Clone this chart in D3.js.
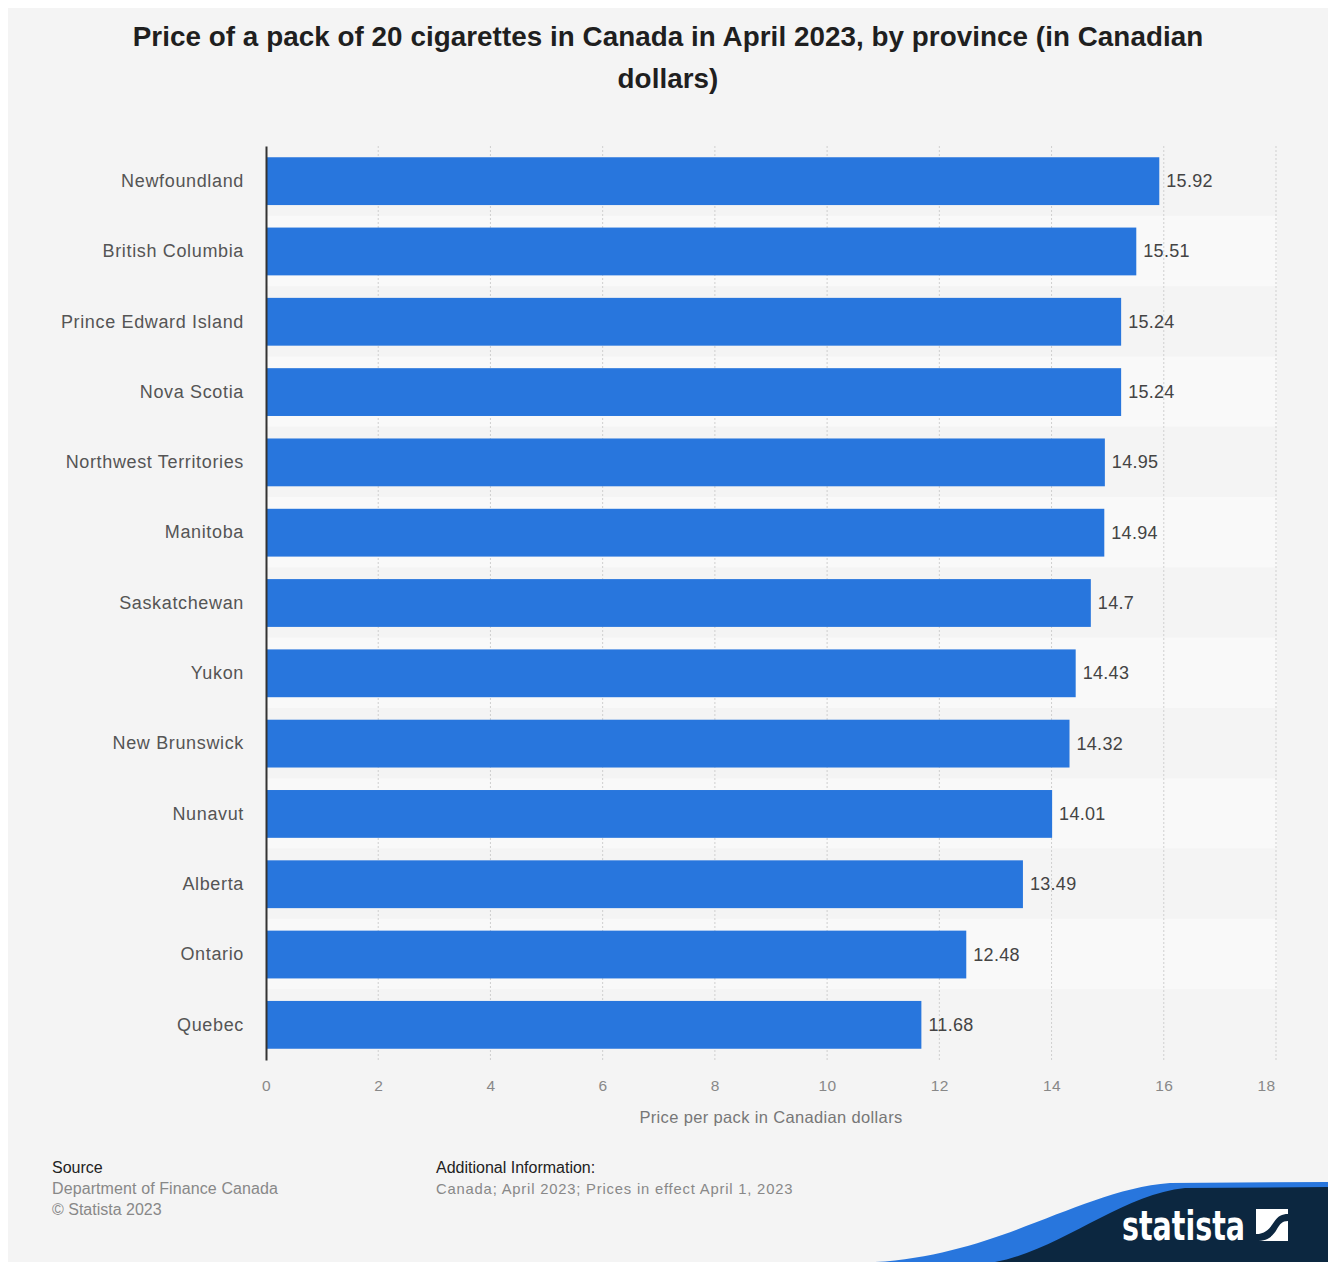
<!DOCTYPE html>
<html><head><meta charset="utf-8">
<script src="https://cdn.jsdelivr.net/npm/d3@7"></script>
<style>
html,body{margin:0;padding:0;background:#fff;}
svg{display:block;font-family:"Liberation Sans",Arial,Helvetica,sans-serif;}
</style></head>
<body>
<script>
const provinces = ["Newfoundland","British Columbia","Prince Edward Island","Nova Scotia","Northwest Territories","Manitoba","Saskatchewan","Yukon","New Brunswick","Nunavut","Alberta","Ontario","Quebec"];
const prices = [15.92,15.51,15.24,15.24,14.95,14.94,14.7,14.43,14.32,14.01,13.49,12.48,11.68];
const valueLabels = ["15.92","15.51","15.24","15.24","14.95","14.94","14.7","14.43","14.32","14.01","13.49","12.48","11.68"];
const xTicks = [0,2,4,6,8,10,12,14,16,18];
const titleLines = ["Price of a pack of 20 cigarettes in Canada in April 2023, by province (in Canadian","dollars)"];
const axisTitle = "Price per pack in Canadian dollars";

const W=1328,H=1262;
const svg=d3.select("body").append("svg").attr("width",W).attr("height",H);
svg.append("rect").attr("x",8).attr("y",8).attr("width",W-8).attr("height",H-8).attr("fill","#f4f4f4");

const m={l:266,r:1276,t:146,b:1060};
const x=d3.scaleLinear().domain([0,18]).range([m.l,m.r]);
const y=d3.scaleBand().domain(provinces).range([m.t,m.b]).paddingInner(0.32).paddingOuter(0.16);
const step=y.step();

// stripes
svg.append("g").selectAll("rect").data(provinces.filter((d,i)=>i%2===1)).join("rect")
  .attr("x",m.l).attr("width",m.r-m.l+1)
  .attr("y",d=>y(d)-y.paddingInner()*step/2-0.5).attr("height",step)
  .attr("fill","#f9f9f9");

// title
svg.append("g").selectAll("text").data(titleLines).join("text")
  .attr("x",668).attr("y",(d,i)=>46+i*42).attr("text-anchor","middle")
  .attr("font-size",27.8).attr("letter-spacing",0.05).attr("font-weight","bold").attr("fill","#1f1f1f").text(d=>d);

// grid
svg.append("g").selectAll("line").data(xTicks.slice(1)).join("line")
  .attr("x1",d=>x(d)).attr("x2",d=>x(d)).attr("y1",m.t).attr("y2",m.b)
  .attr("stroke","#cfcfcf").attr("stroke-width",1).attr("stroke-dasharray","2,2");

// bars
svg.append("g").selectAll("rect").data(provinces).join("rect")
  .attr("x",x(0)).attr("y",d=>y(d)).attr("height",y.bandwidth())
  .attr("width",(d,i)=>x(prices[i])-x(0)).attr("fill","#2876dd");

// value labels
svg.append("g").selectAll("text").data(provinces).join("text")
  .attr("x",(d,i)=>x(prices[i])+7).attr("y",d=>y(d)+y.bandwidth()/2+6)
  .attr("font-size",18).attr("letter-spacing",0.3).attr("fill","#444").text((d,i)=>valueLabels[i]);

// y axis
const ya=svg.append("g").attr("transform",`translate(${m.l},0)`).call(d3.axisLeft(y).tickSize(0).tickPadding(22));
ya.select(".domain").attr("stroke","#333").attr("stroke-width",2);
ya.selectAll("text").attr("font-size",18).attr("letter-spacing",0.65).attr("fill","#555").attr("font-family","Liberation Sans, Arial, sans-serif");

// x axis
const xa=svg.append("g").attr("transform",`translate(0,${m.b})`).call(d3.axisBottom(x).tickValues(xTicks).tickSize(0).tickPadding(20).tickFormat(d3.format("d")));
xa.select(".domain").remove();
xa.selectAll("text").attr("font-size",15.5).attr("letter-spacing",0.5).attr("fill","#888").attr("font-family","Liberation Sans, Arial, sans-serif");
xa.selectAll(".tick").filter(d=>d===18).select("text").attr("dx",-10);

svg.append("text").attr("x",(m.l+m.r)/2).attr("y",1123).attr("text-anchor","middle")
  .attr("font-size",16.5).attr("letter-spacing",0.35).attr("fill","#777").text(axisTitle);

// footer
const f=svg.append("g").attr("font-size",16);
f.append("text").attr("x",52).attr("y",1173).attr("fill","#222").text("Source");
f.append("text").attr("x",52).attr("y",1194).attr("fill","#888").attr("letter-spacing",0.1).text("Department of Finance Canada");
f.append("text").attr("x",52).attr("y",1215).attr("fill","#888").text("© Statista 2023");
f.append("text").attr("x",436).attr("y",1173).attr("fill","#222").text("Additional Information:");
f.append("text").attr("x",436).attr("y",1194).attr("fill","#888").attr("letter-spacing",0.8).attr("font-size",14.8).text("Canada; April 2023; Prices in effect April 1, 2023");

// logo band
const lg=svg.append("g");
lg.append("path").attr("d","M875,1262 C1000,1255 1080,1190 1170,1183 L1328,1182 L1328,1262 Z").attr("fill","#2876dd");
lg.append("path").attr("d","M995,1262 C1060,1250 1120,1195 1185,1188 L1328,1187 L1328,1262 Z").attr("fill","#0c2740");
lg.append("text").attr("x",1122).attr("y",1240).attr("font-size",40).attr("font-weight","bold")
  .attr("textLength",123).attr("lengthAdjust","spacingAndGlyphs")
  .attr("font-family","Liberation Sans Narrow, DejaVu Sans Condensed, sans-serif").attr("fill","#fff").text("statista");
lg.append("rect").attr("x",1256).attr("y",1209).attr("width",32).attr("height",32).attr("fill","#fff");
lg.append("path").attr("d","M1256,1234 C1266,1234 1270,1228 1274,1222 C1278,1216 1282,1214 1288,1214 L1288,1221 C1282,1221 1280,1224 1277,1229 C1273,1236 1268,1241 1256,1241 Z").attr("fill","#0c2740");
</script>
</body></html>
